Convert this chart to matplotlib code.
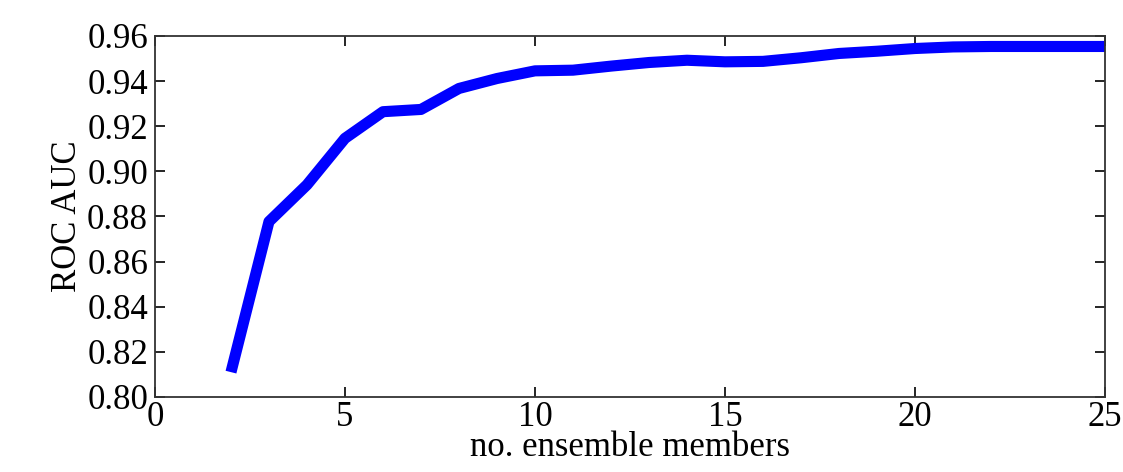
import matplotlib
matplotlib.use('Agg')
import matplotlib.pyplot as plt

# ensemble size vs ROC AUC
members = list(range(2, 26))
roc_auc = [0.811, 0.8777, 0.894, 0.9146, 0.9264, 0.9274, 0.9367, 0.9411, 0.9445,
           0.9448, 0.9466, 0.9482, 0.9492, 0.9485, 0.9487, 0.9503, 0.9522, 0.9532,
           0.9544, 0.9551, 0.9553, 0.9553, 0.9553, 0.9553]

plt.rcParams['font.family'] = ['Liberation Serif', 'DejaVu Serif']

fig = plt.figure(figsize=(11.23, 4.72), dpi=100)
ax = fig.add_axes([0.138, 0.159, 0.846, 0.765])

ax.plot(members, roc_auc, color='#0000ff', linewidth=8, solid_capstyle='butt')

ax.set_xlim(0, 25)
ax.set_ylim(0.80, 0.96)
ax.set_xticks([0, 5, 10, 15, 20, 25])
ax.set_yticks([0.80, 0.82, 0.84, 0.86, 0.88, 0.90, 0.92, 0.94, 0.96])
ax.set_yticklabels(['%.2f' % v for v in ax.get_yticks()])
ax.tick_params(direction='in', top=True, right=True, length=7, width=1.2,
               labelsize=25)
ax.tick_params(axis='y', pad=5)
ax.tick_params(axis='x', pad=3)
for s in ax.spines.values():
    s.set_linewidth(1.3)
    s.set_color('#333333')

ax.set_xlabel('no. ensemble members', fontsize=25, labelpad=-2)
ax.set_ylabel('ROC AUC', fontsize=25, labelpad=2)

fig.savefig('out.png', dpi=100)
